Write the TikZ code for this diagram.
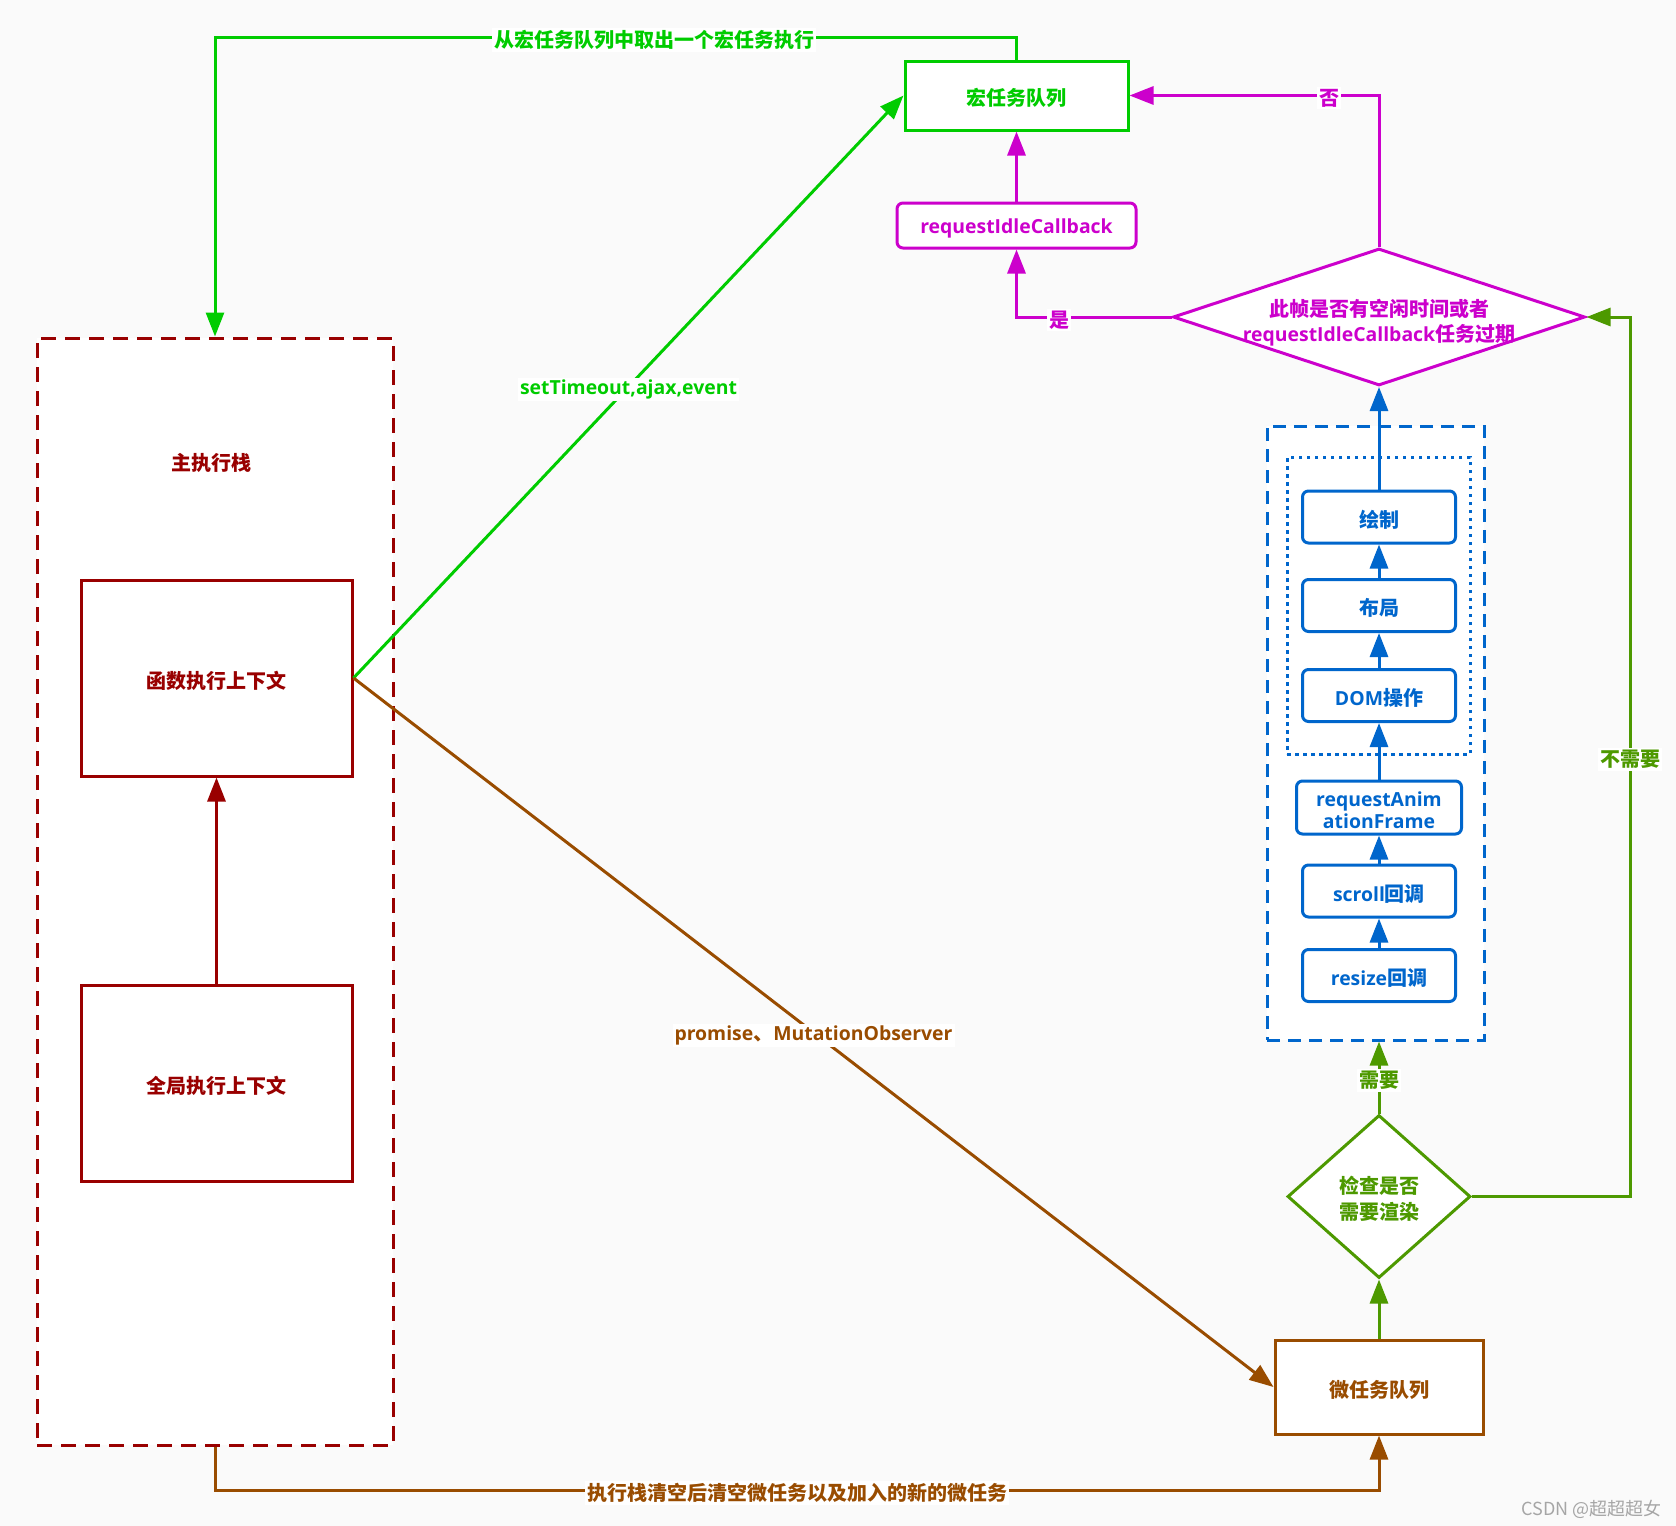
\documentclass[tikz,border=0pt]{standalone}
\usepackage{fontspec}
\setmainfont{Noto Sans CJK SC}
\newfontfamily\lat{Open Sans}[Scale=0.97]
\usetikzlibrary{arrows.meta,shapes.geometric}
\definecolor{cgreen}{HTML}{00CC00}
\definecolor{cmag}{HTML}{CC00CC}
\definecolor{cblue}{HTML}{0066CC}
\definecolor{cred}{HTML}{990000}
\definecolor{cbrown}{HTML}{994C00}
\definecolor{colive}{HTML}{4D9900}
\definecolor{cbg}{HTML}{FAFAFA}
\begin{document}
\begin{tikzpicture}[x=0.5pt,y=-0.5pt,
  font=\fontsize{10pt}{12.5pt}\selectfont\bfseries,
  box/.style={fill=white, line width=1.5pt, inner sep=0pt, align=center},
  rbox/.style={box, rounded corners=3pt},
  tl/.style={text=#1, align=center, inner sep=0pt, yshift=-1.4pt},
  lbl/.style={fill=white, inner sep=1pt, yshift=-1.4pt},
  arr/.style={line width=1.5pt, -{Triangle[length=12pt,width=9pt]}},
  dia/.style={fill=white, line width=1.5pt, diamond, inner sep=0pt},
  txt/.style={align=center, inner sep=0pt}]
\path[fill=cbg] (0,0) rectangle (1676,1526);
\useasboundingbox (0,0) rectangle (1676,1526);

% main stack
\node[box, draw=cred, dash pattern=on 7.5pt off 4.5pt, minimum width=178pt, minimum height=553.5pt] (stack) at (215,891.5) {};
\node[txt, text=cred] (stacklbl) at (211,463) {主执行栈};
\node[box, draw=cred, minimum width=135.5pt, minimum height=98pt, label={[tl=cred]center:函数执行上下文}] (fn) at (216.5,678) {};
\node[box, draw=cred, minimum width=135.5pt, minimum height=98pt, label={[tl=cred]center:全局执行上下文}] (gl) at (216.5,1083) {};
\draw[arr, cred] (gl.north) -- (fn.south);

% macro task queue
\node[box, draw=cgreen, minimum width=111.5pt, minimum height=34.5pt, label={[tl=cgreen]center:宏任务队列}] (mq) at (1016.5,95.5) {};
\node[rbox, draw=cmag, minimum width=119.5pt, minimum height=22.5pt, label={[tl=cmag]center:\lat requestIdleCallback}] (ric) at (1016.5,225.5) {};
\node[dia, draw=cmag, minimum width=206pt, minimum height=68.5pt] (d1) at (1379,317) {};
\node[txt, text=cmag] (d1t) at (1379,322.5) {此帧是否有空闲时间或者\\{\lat requestIdleCallback}任务过期};

% render group
\node[box, draw=cblue, dash pattern=on 6.5pt off 4pt, minimum width=108.5pt, minimum height=307pt] (outer) at (1375.5,733) {};
\node[draw=cblue, line width=1.5pt, dash pattern=on 1.75pt off 2.25pt, minimum width=91.5pt, minimum height=148.5pt, inner sep=0pt] (inner) at (1378.5,605.5) {};
\node[rbox, draw=cblue, minimum width=76.5pt, minimum height=26pt, label={[tl=cblue]center:绘制}] (b1) at (1379,517) {};
\node[rbox, draw=cblue, minimum width=76.5pt, minimum height=26pt, label={[tl=cblue]center:布局}] (b2) at (1379,605.5) {};
\node[rbox, draw=cblue, minimum width=76.5pt, minimum height=26pt, label={[tl=cblue]center:{\lat DOM}操作}] (b3) at (1379,695.5) {};
\node[rbox, draw=cblue, minimum width=82.5pt, minimum height=26.5pt, label={[tl=cblue, font=\fontsize{10pt}{11pt}\selectfont\bfseries]center:{\lat requestAnim}\\{\lat ationFrame}}] (b4) at (1379,807.5) {};
\node[rbox, draw=cblue, minimum width=76.5pt, minimum height=26pt, label={[tl=cblue]center:{\lat scroll}回调}] (b5) at (1379,891) {};
\node[rbox, draw=cblue, minimum width=76.5pt, minimum height=26pt, label={[tl=cblue]center:{\lat resize}回调}] (b6) at (1379,975.5) {};
\draw[arr, cblue] (b6.north) -- (b5.south);
\draw[arr, cblue] (b5.north) -- (b4.south);
\draw[arr, cblue] (b4.north) -- (b3.south);
\draw[arr, cblue] (b3.north) -- (b2.south);
\draw[arr, cblue] (b2.north) -- (b1.south);
\draw[arr, cblue] (b1.north) -- (d1.south);

% check render
\node[dia, draw=colive, minimum width=91.5pt, minimum height=81.5pt] (d2) at (1379,1196.5) {};
\node[txt, text=colive, font=\fontsize{10pt}{13pt}\selectfont\bfseries] (d2t) at (1379,1199) {检查是否\\需要渲染};
\node[box, draw=cbrown, minimum width=104pt, minimum height=47pt, label={[tl=cbrown]center:微任务队列}] (mb) at (1379,1387) {};

% connectors
\coordinate (g1) at (1016.5,37);
\coordinate (g2) at (215,37);
\draw[arr, cgreen] (mq.north) -- (g1) -- node[lbl, text=cgreen, pos=0.452]{从宏任务队列中取出一个宏任务执行} (g2) -- (stack.north);
\draw[arr, cgreen] (fn.east) -- node[lbl, text=cgreen]{\lat setTimeout,ajax,event} (mq.west);
\draw[arr, cbrown] (fn.east) -- node[lbl, text=cbrown]{{\lat promise}、{\lat MutationObserver}} (mb.west);
\coordinate (k1) at (215,1490);
\coordinate (k2) at (1379,1490);
\draw[arr, cbrown] (stack.south) -- (k1) -- node[lbl, text=cbrown]{执行栈清空后清空微任务以及加入的新的微任务} (k2) -- (mb.south);

\draw[arr, cmag] (d1.north) |- node[lbl, text=cmag, pos=0.6]{否} (mq.east);
\draw[arr, cmag] (d1.west) -| node[lbl, text=cmag, pos=0.362]{是} (ric.south);
\draw[arr, cmag] (ric.north) -- (mq.south);

\draw[arr, colive] (mb.north) -- (d2.south);
\draw[arr, colive] (d2.north) -- node[lbl, text=colive]{需要} (d2.north |- outer.south);
\coordinate (c1) at (1630,1196.5);
\coordinate (c2) at (1630,317);
\draw[arr, colive] (d2.east) -- (c1) -- node[lbl, text=colive]{不需要} (c2) -- (d1.east);

\node[txt, text=black!35, font=\fontsize{9pt}{10pt}\selectfont, anchor=east] (wm) at (1662,1509) {CSDN @超超超女};
\end{tikzpicture}
\end{document}
